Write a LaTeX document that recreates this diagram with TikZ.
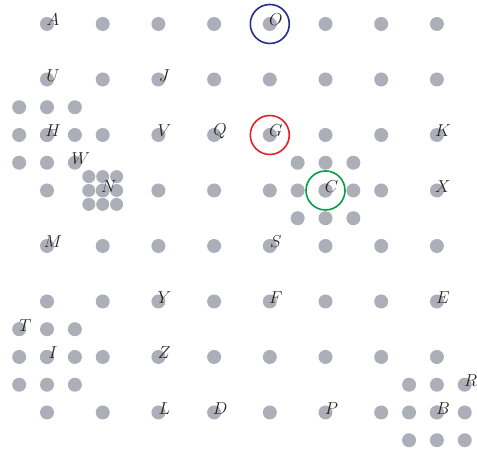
\documentclass[tikz,border=0pt]{standalone}
\usetikzlibrary{positioning, calc}
\definecolor{dotgray}{RGB}{172,174,184}
\definecolor{ringblue}{RGB}{40,44,140}
\definecolor{ringred}{RGB}{230,32,40}
\definecolor{ringgreen}{RGB}{0,160,75}
\begin{document}
\begin{tikzpicture}[
        x=55.7pt, y=55.5pt,
        dot/.style={circle, fill=dotgray, inner sep=0pt, minimum size=14pt},
        small dot/.style={dot, minimum size=13pt},
        letter/.style={inner sep=0pt, text=black!85, font=\fontsize{16}{16}\selectfont,
            xshift=6pt, yshift=4pt},
        ring/.style={circle, draw=#1, line width=1.6pt, inner sep=0pt,
            minimum size=39pt},
    ]
        \useasboundingbox (-0.844,0.432) rectangle (7.72,-7.73);

        % Main grid
        \foreach \i in {0,...,7}
            \foreach \j in {0,...,7}
                \node[dot] (g-\i-\j) at (\i,-\j) {};

        % Clusters at half spacing
        \foreach \cx/\cy/\nm in {0/2/H, 5/3/C, 0/6/I, 7/7/B}
            \foreach \a in {1,2,3}
                \foreach \b in {1,2,3}
                    \node[dot] (c\nm-\a-\b) at ({\cx+(\a-2)*0.5},{-\cy-(\b-2)*0.5}) {};

        % Cluster at quarter spacing
        \foreach \a in {1,2,3}
            \foreach \b in {1,2,3}
                \node[small dot] (cN-\a-\b) at ({1+(\a-2)*0.25},{-3-(\b-2)*0.25}) {};

        % Letters
        \node[letter] (A) at (g-0-0) {$A$};
        \node[letter] (O) at (g-4-0) {$O$};
        \node[letter] (U) at (g-0-1) {$U$};
        \node[letter] (J) at (g-2-1) {$J$};
        \node[letter] (H) at (g-0-2) {$H$};
        \node[letter] (V) at (g-2-2) {$V$};
        \node[letter] (Q) at (g-3-2) {$Q$};
        \node[letter] (G) at (g-4-2) {$G$};
        \node[letter] (K) at (g-7-2) {$K$};
        \node[letter] (W) at (cH-3-3) {$W$};
        \node[letter] (N) at (g-1-3) {$N$};
        \node[letter] (C) at (g-5-3) {$C$};
        \node[letter] (X) at (g-7-3) {$X$};
        \node[letter] (M) at (g-0-4) {$M$};
        \node[letter] (S) at (g-4-4) {$S$};
        \node[letter] (Y) at (g-2-5) {$Y$};
        \node[letter] (F) at (g-4-5) {$F$};
        \node[letter] (E) at (g-7-5) {$E$};
        \node[letter] (T) at (cI-1-1) {$T$};
        \node[letter] (I) at (g-0-6) {$I$};
        \node[letter] (Z) at (g-2-6) {$Z$};
        \node[letter] (R) at (cB-3-1) {$R$};
        \node[letter] (L) at (g-2-7) {$L$};
        \node[letter] (D) at (g-3-7) {$D$};
        \node[letter] (P) at (g-5-7) {$P$};
        \node[letter] (B) at (g-7-7) {$B$};

        % Rings
        \node[ring=ringblue] (ringO) at (g-4-0) {};
        \node[ring=ringred] (ringG) at (g-4-2) {};
        \node[ring=ringgreen] (ringC) at (g-5-3) {};
    \end{tikzpicture}
\end{document}
